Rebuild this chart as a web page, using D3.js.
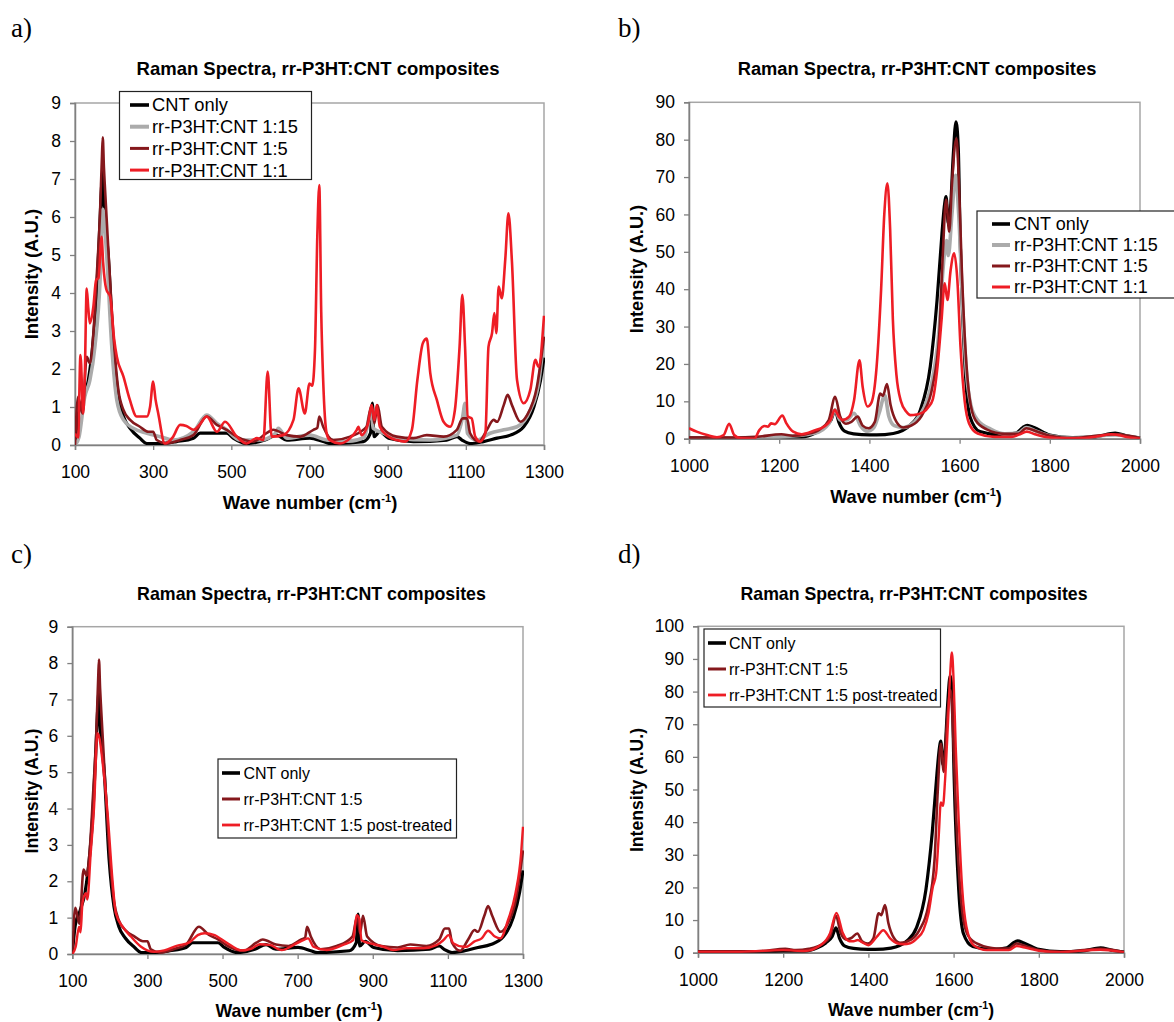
<!DOCTYPE html>
<html>
<head>
<meta charset="utf-8">
<script src="https://cdn.jsdelivr.net/npm/d3@7"></script>
<style>
body { margin: 0; background: #fff; }
svg text { font-family: "Liberation Sans", Arial, sans-serif; }
</style>
</head>
<body>
<svg id="fig" width="1174" height="1022"></svg>
<script>
// tick labels
const lowXTicks = [100, 300, 500, 700, 900, 1100, 1300]
const highXTicks = [1000, 1200, 1400, 1600, 1800, 2000]
const lowYTicks = [0, 1, 2, 3, 4, 5, 6, 7, 8, 9]
const bYTicks = [0, 10, 20, 30, 40, 50, 60, 70, 80, 90]
const dYTicks = [0, 10, 20, 30, 40, 50, 60, 70, 80, 90, 100]

// series, low wave numbers [cm-1, intensity]
const cntLow = [[100,0],[108,0.8],[121,1.2],[134,1.7],[147,2.8],[155,3.9],[164,5.9],[168,6.8],[171,7.2],[174,6.3],[177,5.9],[185,5.0],[198,2.6],[211,1.3],[224,0.75],[241,0.44],[266,0.18],[284,0.04],[318,0.04],[360,0.09],[403,0.18],[420,0.31],[488,0.31],[505,0.18],[539,0.04],[586,0.13],[616,0.26],[642,0.13],[701,0.18],[735,0.09],[752,0.04],[838,0.09],[856,0.31],[861,1.1],[865,0.22],[880,0.35],[902,0.18],[966,0.09],[1051,0.13],[1077,0.22],[1090,0.13],[1111,0.04],[1145,0.09],[1180,0.18],[1214,0.26],[1248,0.48],[1274,1.0],[1291,1.7],[1300,2.3]]
const p15Low = [[100,0],[110,0.2],[125,1.27],[138,1.7],[151,2.6],[164,4.3],[171,6.2],[181,5.0],[194,2.6],[207,1.18],[224,0.66],[249,0.44],[284,0.31],[318,0.22],[351,0.13],[403,0.35],[437,0.79],[463,0.57],[488,0.4],[522,0.13],[573,0.13],[612,0.3],[620,0.44],[642,0.18],[701,0.26],[744,0.13],[800,0.1],[840,0.2],[858,0.9],[863,0.44],[889,0.31],[923,0.18],[1009,0.13],[1077,0.26],[1092,0.75],[1098,1.1],[1104,0.31],[1128,0.13],[1162,0.31],[1197,0.4],[1231,0.48],[1265,0.92],[1286,1.62],[1300,2.85]]
const p5Low = [[100,0],[108,1.27],[119,0.83],[130,2.32],[138,2.15],[147,2.94],[155,4.34],[164,6.1],[169,7.6],[171,8.1],[174,7.3],[177,6.7],[185,5.2],[198,2.94],[211,1.45],[224,0.92],[241,0.66],[266,0.48],[288,0.35],[300,0.35],[309,0.13],[334,0.04],[369,0.13],[403,0.26],[437,0.75],[463,0.53],[488,0.4],[514,0.22],[556,0.09],[590,0.31],[607,0.4],[642,0.26],[676,0.22],[710,0.4],[720,0.45],[725,0.75],[735,0.48],[761,0.13],[804,0.22],[846,0.48],[859,1.05],[866,0.57],[874,1.05],[885,0.48],[923,0.22],[966,0.18],[1000,0.26],[1043,0.22],[1077,0.4],[1092,0.7],[1103,0.7],[1111,0.31],[1133,0.09],[1154,0.4],[1171,0.66],[1180,0.61],[1197,1.05],[1207,1.32],[1218,1.05],[1240,0.61],[1257,0.79],[1282,1.54],[1300,2.85]]
const p1Low = [[100,0.3],[108,0.2],[114,2.37],[121,0.83],[125,1.8],[130,4.12],[134,3.6],[138,3.2],[147,3.64],[154,4.34],[160,4.4],[168,5.48],[172,4.8],[180,4.1],[190,3.9],[200,2.8],[207,2.32],[224,1.8],[240,1.2],[258,0.75],[284,0.75],[292,1.0],[300,1.67],[306,1.2],[313,0.83],[330,0.04],[350,0.2],[369,0.53],[385,0.5],[403,0.4],[420,0.55],[437,0.75],[463,0.35],[484,0.61],[514,0.22],[539,0.04],[565,0.18],[582,0.13],[593,1.93],[603,0.22],[633,0.26],[659,0.66],[672,1.49],[688,0.83],[700,1.62],[707,1.56],[714,2.5],[720,5.5],[725,6.84],[730,3.5],[735,1.7],[744,0.3],[752,0.13],[778,0.04],[804,0.18],[821,0.4],[825,0.48],[833,0.26],[850,0.57],[859,1.05],[866,0.66],[872,1.05],[880,0.48],[902,0.22],[923,0.13],[945,0.09],[962,0.4],[976,1.71],[990,2.68],[1000,2.8],[1009,1.89],[1026,1.18],[1043,0.61],[1060,0.48],[1072,0.92],[1084,2.59],[1091,3.95],[1098,2.59],[1105,0.75],[1115,0.7],[1124,0.22],[1137,0.09],[1150,0.31],[1158,2.59],[1167,2.94],[1173,3.47],[1178,2.94],[1184,4.17],[1192,3.86],[1201,4.9],[1209,6.1],[1218,4.82],[1231,1.71],[1248,1.1],[1265,1.45],[1278,2.24],[1286,2.06],[1300,3.4]]
const ptLow = [[100,0],[109,0.2],[118,0.75],[122,0.6],[127,1.39],[136,1.67],[140,1.5],[149,2.77],[158,4.05],[167,6.07],[173,5.9],[180,5.33],[194,3.87],[207,2.03],[216,1.12],[234,0.75],[256,0.48],[283,0.2],[318,0.06],[345,0.1],[380,0.23],[412,0.32],[434,0.52],[452,0.57],[479,0.52],[496,0.41],[523,0.23],[550,0.1],[576,0.14],[599,0.27],[626,0.25],[657,0.11],[697,0.29],[715,0.38],[728,0.43],[742,0.2],[777,0.11],[821,0.25],[848,0.38],[857,1.07],[864,0.98],[870,0.38],[893,0.29],[928,0.2],[955,0.11],[990,0.16],[1035,0.16],[1071,0.25],[1088,0.38],[1102,0.52],[1115,0.29],[1142,0.2],[1150,0.2],[1170,0.34],[1190,0.43],[1207,0.64],[1225,0.48],[1240,0.43],[1260,0.93],[1280,1.67],[1295,2.77],[1300,3.5]]

// series, high wave numbers
const cntHigh = [[1000,0.3],[1100,0.3],[1150,0.2],[1200,0.5],[1250,0.5],[1280,1.5],[1300,3.0],[1315,5.0],[1324,7.6],[1332,4.5],[1345,2.0],[1365,1.3],[1400,1.0],[1416,1.0],[1453,1.4],[1491,3.7],[1513,7.7],[1535,19.3],[1550,37],[1561,55],[1566,62],[1570,64.8],[1575,57.6],[1580,62],[1586,76],[1592,84.8],[1597,78],[1601,55],[1612,19.3],[1623,5.9],[1645,1.9],[1690,1.0],[1725,1.5],[1740,3.0],[1750,3.6],[1765,3.0],[1800,1.0],[1850,0.3],[1900,0.5],[1945,1.5],[1970,0.8],[2000,0.2]]
const p15High = [[1000,0.1],[1200,0.5],[1280,1.5],[1310,4],[1324,7.7],[1335,5],[1350,5],[1366,6.8],[1380,3.5],[1395,2],[1410,3],[1422,7],[1434,11.6],[1443,6],[1455,3.5],[1475,3],[1500,4.5],[1520,8],[1540,16],[1555,30],[1563,45],[1571,53],[1575,49],[1583,60],[1591,70.5],[1598,60],[1607,35],[1615,18],[1625,9],[1640,5],[1670,2.5],[1700,1.3],[1730,1.5],[1748,3.0],[1770,2.0],[1800,0.8],[1850,0.2],[1945,1.0],[2000,0.1]]
const p5High = [[1000,0.3],[1100,0.3],[1150,0.5],[1205,1.2],[1230,0.8],[1260,1.2],[1290,2.5],[1310,5],[1324,11.2],[1335,6],[1348,4],[1360,4.5],[1374,5.9],[1385,3.5],[1398,2.8],[1412,4.5],[1424,12.1],[1430,11.5],[1439,14.6],[1447,9],[1460,4.5],[1475,3],[1500,4],[1520,7],[1540,14],[1555,28],[1563,50],[1570,64],[1577,55.4],[1583,68],[1593,80.4],[1598,70],[1605,45],[1613,24],[1622,11],[1635,5],[1660,2.5],[1700,1.3],[1730,1.3],[1748,2.8],[1770,2.0],[1800,0.8],[1850,0.2],[1945,1.2],[2000,0.2]]
const p1High = [[1000,2.8],[1017,1.9],[1040,1.0],[1062,0.4],[1077,1.0],[1089,4.0],[1100,1.0],[1115,0.1],[1145,0.0],[1156,2.3],[1167,3.4],[1175,3.2],[1182,4.1],[1190,3.9],[1207,6.2],[1216,4.1],[1231,1.9],[1250,1.2],[1265,1.6],[1280,2.3],[1299,3.2],[1314,5.0],[1323,7.7],[1332,5.9],[1340,5.0],[1355,5.9],[1366,10.3],[1378,21],[1385,13.9],[1396,8.6],[1404,9.5],[1416,19.3],[1426,40],[1433,60],[1440,68.3],[1446,56],[1452,32],[1460,17],[1470,10],[1482,7.2],[1491,6.3],[1505,6.5],[1521,7.2],[1531,8.5],[1540,10.3],[1551,19.3],[1560,31.8],[1567,41.6],[1573,37.1],[1580,45],[1588,49.6],[1595,42.5],[1602,24.6],[1611,10.3],[1621,4.1],[1640,1.4],[1677,0.5],[1715,0.5],[1734,1.2],[1749,1.9],[1767,1.2],[1790,0.45],[1835,0.1],[1880,0.2],[1910,0.7],[1936,1.2],[1955,0.9],[1977,0.3],[2000,0]]
const ptHigh = [[1000,0.3],[1100,0.3],[1200,0.8],[1250,0.5],[1290,2.5],[1310,6],[1325,12.2],[1340,6],[1355,3.5],[1365,3.5],[1375,3.9],[1385,3.2],[1400,2.3],[1420,4.9],[1435,6.9],[1451,4.4],[1467,2.9],[1482,2.6],[1498,2.9],[1514,4.4],[1529,6.9],[1541,12],[1551,20],[1559,24.3],[1565,35.5],[1570,46],[1575,45],[1580,53],[1587,71],[1592,85.6],[1596,92],[1600,83.5],[1605,63],[1612,40.6],[1620,20],[1630,8],[1647,2.3],[1678,0.8],[1730,0.8],[1748,2.0],[1770,1.5],[1800,0.6],[1850,0.2],[1945,0.9],[2000,0.1]]

const styles = {
  cnt: {color: "#000000", w: 3.2},
  p15: {color: "#ababab", w: 3.6},
  p5: {color: "#85181c", w: 2.6},
  p1: {color: "#ee1d25", w: 2.6},
  pt: {color: "#ee1d25", w: 2.4}
}

const panels = [
  {label: "a)", lx: 11, ly: 37, x0: 75, x1: 544, y0: 103, y1: 445, xd: [100, 1300], yd: [0, 9], xt: lowXTicks, yt: lowYTicks,
   tX: 318, tY: 75, tfs: 18.5, xlX: 310, xlY: 509, ylX: 38, ylY: 274, afs: 18.5,
   series: [["CNT only", cntLow, "cnt"], ["rr-P3HT:CNT 1:15", p15Low, "p15"], ["rr-P3HT:CNT 1:5", p5Low, "p5"], ["rr-P3HT:CNT 1:1", p1Low, "p1"]],
   leg: {x: 119.5, y: 91.5, w: 192, h: 88, ry: 105, dy: 21.7, sx: 130, sw: 19, tx: 152, fs: 18.3}},
  {label: "b)", lx: 618, ly: 37, x0: 689, x1: 1140, y0: 102.3, y1: 438.7, xd: [1000, 2000], yd: [0, 90], xt: highXTicks, yt: bYTicks,
   tX: 917, tY: 75, tfs: 18.3, xlX: 916, xlY: 503, ylX: 643, ylY: 269, afs: 18.2,
   series: [["CNT only", cntHigh, "cnt"], ["rr-P3HT:CNT 1:15", p15High, "p15"], ["rr-P3HT:CNT 1:5", p5High, "p5"], ["rr-P3HT:CNT 1:1", p1High, "p1"]],
   leg: {x: 977, y: 211, w: 210, h: 87, ry: 224, dy: 21, sx: 992, sw: 18, tx: 1014, fs: 18}},
  {label: "c)", lx: 11, ly: 563, x0: 72.3, x1: 523, y0: 626.7, y1: 954, xd: [100, 1300], yd: [0, 9], xt: lowXTicks, yt: lowYTicks,
   tX: 311.5, tY: 600, tfs: 17.8, xlX: 299, xlY: 1017, ylX: 38, ylY: 791, afs: 17.7,
   series: [["CNT only", cntLow, "cnt"], ["rr-P3HT:CNT 1:5", p5Low, "p5"], ["rr-P3HT:CNT 1:5 post-treated", ptLow, "pt"]],
   leg: {x: 218, y: 759, w: 238.5, h: 79, ry: 773, dy: 26, sx: 222, sw: 18, tx: 243.5, fs: 16}},
  {label: "d)", lx: 618, ly: 563, x0: 698, x1: 1124, y0: 626.3, y1: 952.7, xd: [1000, 2000], yd: [0, 100], xt: highXTicks, yt: dYTicks,
   tX: 914, tY: 600, tfs: 17.7, xlX: 911, xlY: 1016, ylX: 643, ylY: 790, afs: 17.6,
   series: [["CNT only", cntHigh, "cnt"], ["rr-P3HT:CNT 1:5", p5High, "p5"], ["rr-P3HT:CNT 1:5 post-treated", ptHigh, "pt"]],
   leg: {x: 704, y: 629, w: 236.5, h: 78, ry: 643, dy: 26, sx: 708, sw: 18, tx: 729, fs: 16}}
]

const svg = d3.select("#fig")

panels.forEach(function(p, i) {
  const x = d3.scaleLinear().domain(p.xd).range([p.x0, p.x1])
  const y = d3.scaleLinear().domain(p.yd).range([p.y1, p.y0])
  const g = svg.append("g")

  g.append("text").attr("x", p.lx).attr("y", p.ly).text(p.label)
    .style("font-family", "'Liberation Serif','Times New Roman',serif").style("font-size", "27px")

  g.append("text").attr("x", p.tX).attr("y", p.tY).attr("text-anchor", "middle")
    .style("font-size", p.tfs + "px").style("font-weight", "bold")
    .text("Raman Spectra, rr-P3HT:CNT composites")

  // plot frame
  g.append("rect").attr("x", p.x0).attr("y", p.y0).attr("width", p.x1 - p.x0).attr("height", p.y1 - p.y0)
    .attr("fill", "none").attr("stroke", "#a6a6a6").attr("stroke-width", 1.5)

  const ax = g.append("g").attr("transform", "translate(0," + p.y1 + ")")
    .call(d3.axisBottom(x).tickValues(p.xt).tickSize(5).tickPadding(16).tickFormat(d3.format("d")))
  const ay = g.append("g").attr("transform", "translate(" + p.x0 + ",0)")
    .call(d3.axisLeft(y).tickValues(p.yt).tickSize(5).tickPadding(9).tickFormat(d3.format("d")))
  ;[ax, ay].forEach(function(a) {
    a.select(".domain").attr("stroke", "#808080").attr("stroke-width", 1.5)
    a.selectAll(".tick line").attr("stroke", "#808080").attr("stroke-width", 1.3)
    a.selectAll("text").style("font-size", "17.5px").style("font-family", "'Liberation Sans',Arial,sans-serif").attr("fill", "#000")
  })

  // axis titles
  const xl = g.append("text").attr("x", p.xlX).attr("y", p.xlY).attr("text-anchor", "middle")
    .style("font-size", p.afs + "px").style("font-weight", "bold")
  xl.append("tspan").text("Wave number (cm")
  xl.append("tspan").attr("dy", -7).style("font-size", (p.afs * 0.6) + "px").text("-1")
  xl.append("tspan").attr("dy", 7).text(")")

  g.append("text").attr("transform", "translate(" + p.ylX + "," + p.ylY + ") rotate(-90)")
    .attr("text-anchor", "middle").style("font-size", p.afs + "px").style("font-weight", "bold")
    .text("Intensity (A.U.)")

  // curves
  svg.append("clipPath").attr("id", "clip" + i).append("rect")
    .attr("x", p.x0).attr("y", p.y0 - 2).attr("width", p.x1 - p.x0 + 1).attr("height", p.y1 - p.y0 + 2)
  const line = d3.line().x(d => x(d[0])).y(d => y(d[1])).curve(d3.curveMonotoneX)
  const curves = g.append("g").attr("clip-path", "url(#clip" + i + ")")
  p.series.forEach(function(s) {
    curves.append("path").datum(s[1]).attr("d", line).attr("fill", "none")
      .attr("stroke", styles[s[2]].color).attr("stroke-width", styles[s[2]].w)
      .attr("stroke-linejoin", "round")
  })

  // legend
  const L = p.leg
  g.append("rect").attr("x", L.x).attr("y", L.y).attr("width", L.w).attr("height", L.h)
    .attr("fill", "#fff").attr("stroke", "#222").attr("stroke-width", 1.2)
  p.series.forEach(function(s, k) {
    const ry = L.ry + k * L.dy
    g.append("line").attr("x1", L.sx).attr("x2", L.sx + L.sw).attr("y1", ry).attr("y2", ry)
      .attr("stroke", styles[s[2]].color).attr("stroke-width", styles[s[2]].w + 0.4)
    g.append("text").attr("x", L.tx).attr("y", ry + L.fs * 0.35).style("font-size", L.fs + "px").text(s[0])
  })
})
</script>
</body>
</html>
